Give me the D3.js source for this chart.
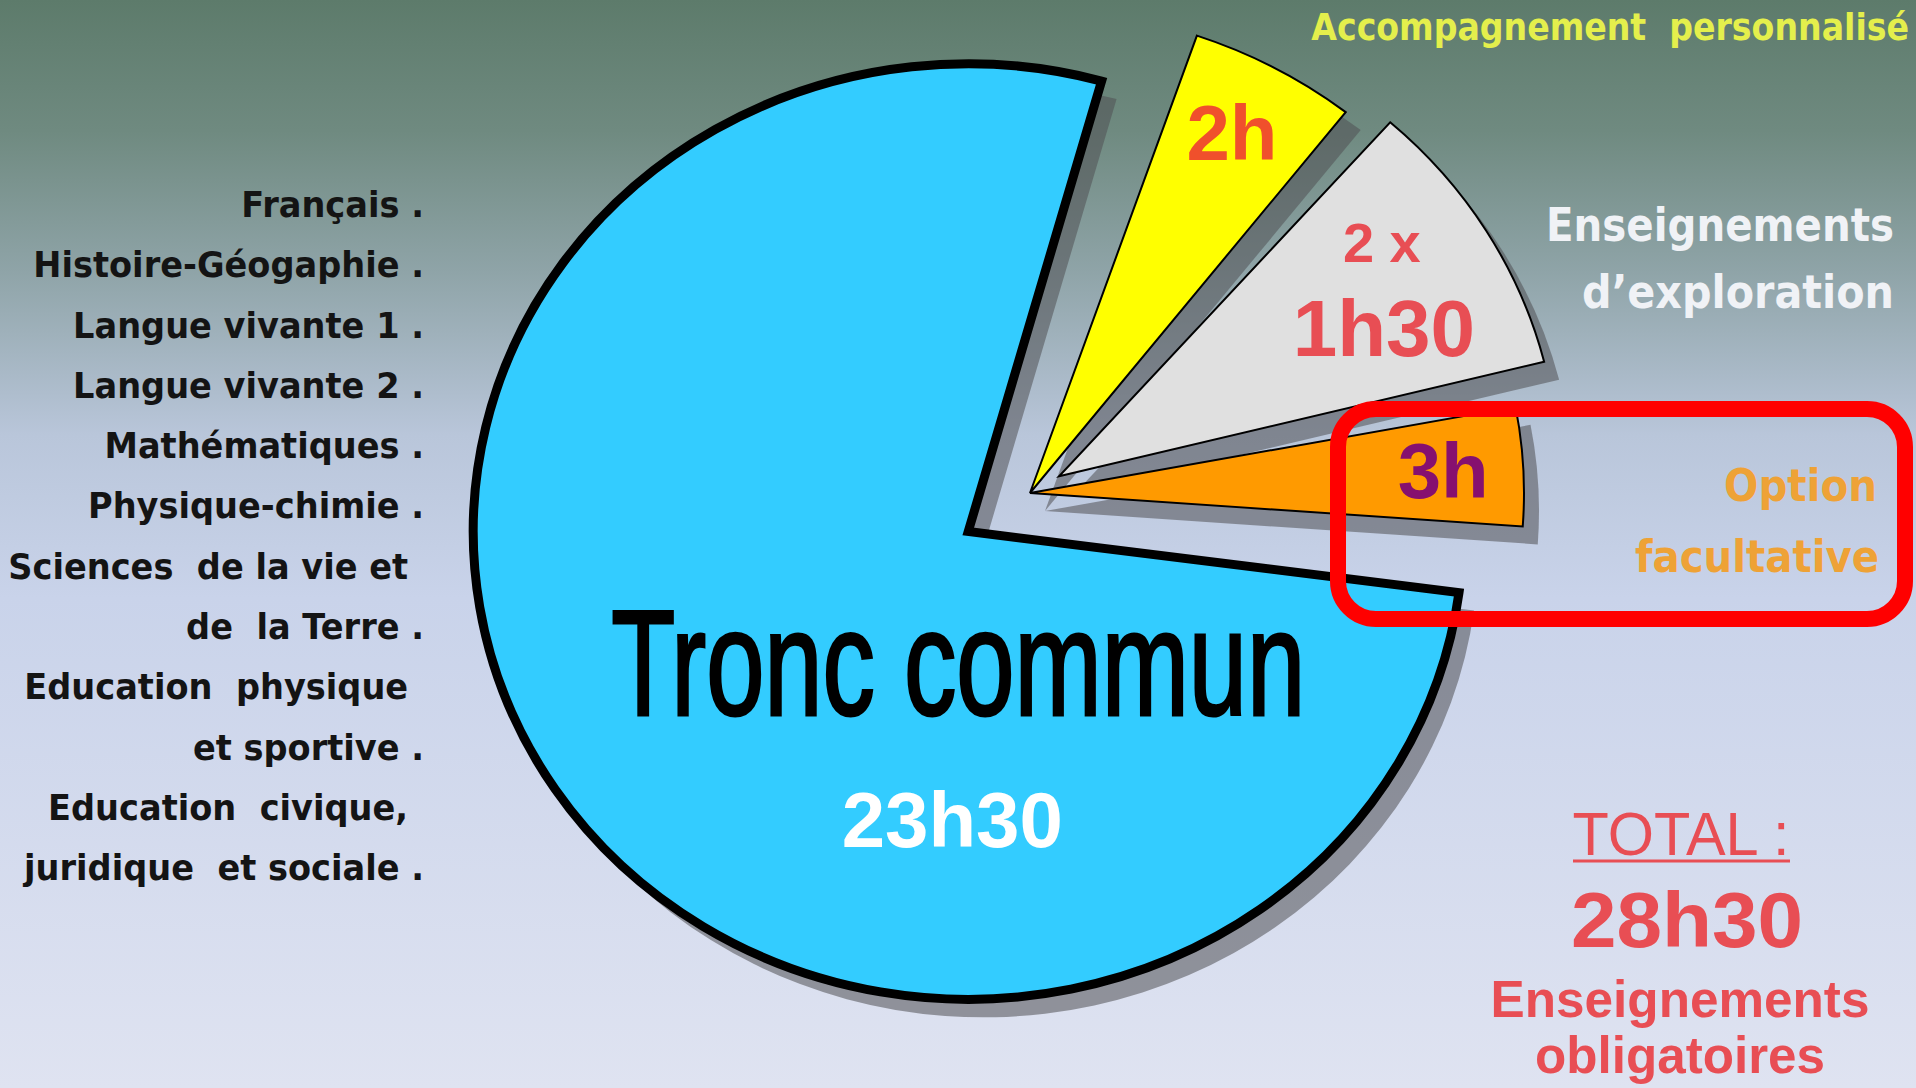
<!DOCTYPE html>
<html>
<head>
<meta charset="UTF-8">
<title>Seconde - horaires</title>
<style>
html, body {
    margin: 0;
    padding: 0;
    overflow: hidden;
}

.subject {
    font-family: "DejaVu Sans", Verdana, sans-serif;
    font-weight: bold;
    font-size: 36px;
    fill: #141414;
}

.side {
    font-family: "DejaVu Sans", Verdana, sans-serif;
    font-weight: bold;
}

.num {
    font-family: "Liberation Sans", Arial, sans-serif;
    font-weight: bold;
}
</style>
</head>
<body>
<div class="chart"></div>
<script src="https://cdn.jsdelivr.net/npm/d3@7"></script>
<script>

// wedges, in drawing order (clockwise from the right of the blue one)
const sliceNames = ['Tronc commun', 'Accompagnement personnalisé', 'Enseignements d’exploration', 'Option facultative'];
// part of the turn each wedge takes in the picture (%), gaps left aside
const sliceShare = [77.4, 5.3, 9.6, 4.1];
const sliceHours = [['23h30'], ['2h'], ['2 x', '1h30'], ['3h']];

const subjects = [
    'Français .', 'Histoire-Géogaphie .', 'Langue vivante 1 .', 'Langue vivante 2 .',
    'Mathématiques .', 'Physique-chimie .', 'Sciences  de la vie et', 'de  la Terre .',
    'Education  physique', 'et sportive .', 'Education  civique,', 'juridique  et sociale .'
];
const sideLabels = [['Accompagnement  personnalisé'], ['Enseignements', 'd’exploration'], ['Option', 'facultative']];
const totalLines = ['TOTAL :', '28h30', 'Enseignements', 'obligatoires'];


let width = 1916, height = 1088;

let svg = d3.select('.chart').append('svg')
    .attr('width', width)
    .attr('height', height);

let defs = svg.append('defs');
let bg = defs.append('linearGradient')
    .attr('id', 'bgGrad')
    .attr('x1', '0%').attr('y1', '0%')
    .attr('x2', '0%').attr('y2', '100%');
[[0, '#5d7b6b'], [0.12, '#6f8a80'], [0.25, '#8fa4a8'], [0.4, '#b9c6da'], [0.55, '#c9d3ea'], [1, '#dfe3f1']]
    .forEach(s => bg.append('stop').attr('offset', s[0]).style('stop-color', s[1]));

svg.append('rect')
    .attr('width', width)
    .attr('height', height)
    .style('fill', 'url(#bgGrad)');


// text squeezed horizontally to a given width (scale, keeps real text)
// styles are set first so the measure is the real one
const fitText = (parent, x, y, str, w, st, anchor) => {
    let g = parent.append('g');
    let t = g.append('text')
        .attr('xml:space', 'preserve')
        .attr('text-anchor', anchor || 'middle');
    if (st.cls) t.attr('class', st.cls);
    Object.keys(st).forEach(k => { if (k !== 'cls') t.style(k, st[k]); });
    t.text(str);
    let k = w / t.node().getComputedTextLength();
    g.attr('transform', 'translate(' + x + ',' + y + ') scale(' + k + ',1)');
    return t;
};


// ---- pie ----
let cx = 1030, cy = 493, sy = 0.945;
let rad = Math.PI / 180;
let pad = 3.4 * rad, start = 95.8 * rad;

let pie = d3.pie()
    .sort(null)
    .startAngle(start)
    .endAngle(start + 2 * Math.PI)
    .padAngle(pad);

let fills = ['#33ccff', '#ffff00', '#e0e0e0', '#ff9a00'];
let radius = [495, 512, 500, 494];
let explode = [74, 0, 34, 0];
let labelR = [0, 0.85, 0.76, 0.85];

let arcs = pie(sliceShare).map((d, i) => {
    let a0 = d.startAngle + pad / 2, a1 = d.endAngle - pad / 2, mid = (a0 + a1) / 2;
    return {
        name: sliceNames[i],
        i: i,
        startAngle: a0,
        endAngle: a1,
        mid: mid,
        r: radius[i],
        dx: explode[i] * Math.sin(mid),
        dy: -explode[i] * Math.cos(mid)
    };
});

let arc = d3.arc()
    .innerRadius(0)
    .outerRadius(d => d.r);

const drawPie = (g, shadow) => {
    g.selectAll('path')
        .data(arcs)
        .enter()
        .append('path')
        .attr('transform', d => 'translate(' + d.dx + ',' + d.dy + ')')
        .attr('d', arc)
        .style('fill', d => shadow ? '#505054' : fills[d.i])
        .style('fill-opacity', shadow ? 0.55 : 1)
        .style('stroke', shadow ? 'none' : '#000')
        .style('stroke-width', d => d.i === 0 ? 9 : 2)
        .style('stroke-linejoin', 'miter')
        .attr('vector-effect', 'non-scaling-stroke');
};

svg.append('g')
    .attr('transform', 'translate(' + (cx + 15) + ',' + (cy + 18) + ') scale(1,' + sy + ')')
    .call(g => drawPie(g, true));

svg.append('g')
    .attr('transform', 'translate(' + cx + ',' + cy + ') scale(1,' + sy + ')')
    .call(g => drawPie(g, false));


// labels inside the wedges
let labelColor = ['#ffffff', '#f0502c', '#e84e54', '#86106f'];

arcs.slice(1).forEach(d => {
    let r = labelR[d.i] * d.r;
    let x = cx + d.dx + r * Math.sin(d.mid);
    let y = cy + (d.dy - r * Math.cos(d.mid)) * sy;
    let lines = sliceHours[d.i];
    let t = svg.append('text')
        .attr('class', 'num')
        .attr('text-anchor', 'middle')
        .style('fill', labelColor[d.i]);
    if (lines.length === 1) {
        t.append('tspan').attr('x', x - 6).attr('y', y + 28).style('font-size', '78px').text(lines[0]);
    } else {
        t.append('tspan').attr('x', x - 2).attr('y', y - 28).style('font-size', '56px').text(lines[0]);
        t.append('tspan').attr('x', x).attr('y', y + 66).style('font-size', '80px').text(lines[1]);
    }
});

// blue wedge text
let blue = arcs[0];
let bx = cx + blue.dx, by = cy + blue.dy * sy;

fitText(svg, bx - 10, by + 183, sliceNames[0], 694, {
    'font-family': '"Liberation Sans Narrow", "Liberation Sans", Arial, sans-serif',
    'font-size': '150px',
    'fill': '#000',
    'stroke': '#000',
    'stroke-width': 3
});

svg.append('text')
    .attr('class', 'num')
    .attr('x', bx - 16)
    .attr('y', by + 315)
    .attr('text-anchor', 'middle')
    .style('font-size', '78px')
    .style('fill', labelColor[0])
    .text(sliceHours[0][0]);


// ---- list of subjects, left ----
let list = svg.append('g');
list.selectAll('text')
    .data(subjects)
    .enter()
    .append('text')
    .attr('class', 'subject')
    .attr('xml:space', 'preserve')
    .attr('x', d => d.endsWith('.') ? 0 : -17)
    .attr('y', (d, i) => 217 + i * 60.3)
    .attr('text-anchor', 'end')
    .text(d => d);

// squeeze the block so the widest line fits the reference width
let widest = d3.max(list.selectAll('text').nodes(), n => n.getComputedTextLength());
list.attr('transform', 'translate(424,0) scale(' + (400 / widest) + ',1)');


// ---- labels on the right ----
const sideText = (x, y, str, size, w, color) => {
    fitText(svg, x, y, str, w, {cls: 'side', 'font-size': size + 'px', 'fill': color}, 'end');
};

sideText(1909, 40, sideLabels[0][0], 38, 598, '#e4ef4c');
sideText(1894, 241, sideLabels[1][0], 46, 348, '#f0f2f6');
sideText(1894, 308, sideLabels[1][1], 46, 312, '#f0f2f6');
sideText(1877, 501, sideLabels[2][0], 44, 153, '#eea236');
sideText(1879, 572, sideLabels[2][1], 44, 244, '#eea236');

// frame round the option
svg.append('rect')
    .attr('x', 1338)
    .attr('y', 409)
    .attr('width', 567)
    .attr('height', 210)
    .attr('rx', 38)
    .style('fill', 'none')
    .style('stroke', '#ff0000')
    .style('stroke-width', 16);


// ---- total ----
let red = '#e84e54';
let totFont = '"Liberation Sans", Arial, sans-serif';
let tot = svg.append('g');

fitText(tot, 1681, 855, totalLines[0], 217, {'font-family': totFont, 'font-size': '62px', 'fill': red});

tot.append('line')
    .attr('x1', 1573).attr('x2', 1790)
    .attr('y1', 861).attr('y2', 861)
    .style('stroke', red)
    .style('stroke-width', 3);

fitText(tot, 1687, 947, totalLines[1], 232,
    {'font-family': totFont, 'font-size': '77px', 'font-weight': 'bold', 'fill': red});
fitText(tot, 1680, 1017, totalLines[2], 379,
    {'font-family': totFont, 'font-size': '52px', 'font-weight': 'bold', 'fill': red});
fitText(tot, 1680, 1073, totalLines[3], 290,
    {'font-family': totFont, 'font-size': '52px', 'font-weight': 'bold', 'fill': red});

</script>
</body>
</html>
